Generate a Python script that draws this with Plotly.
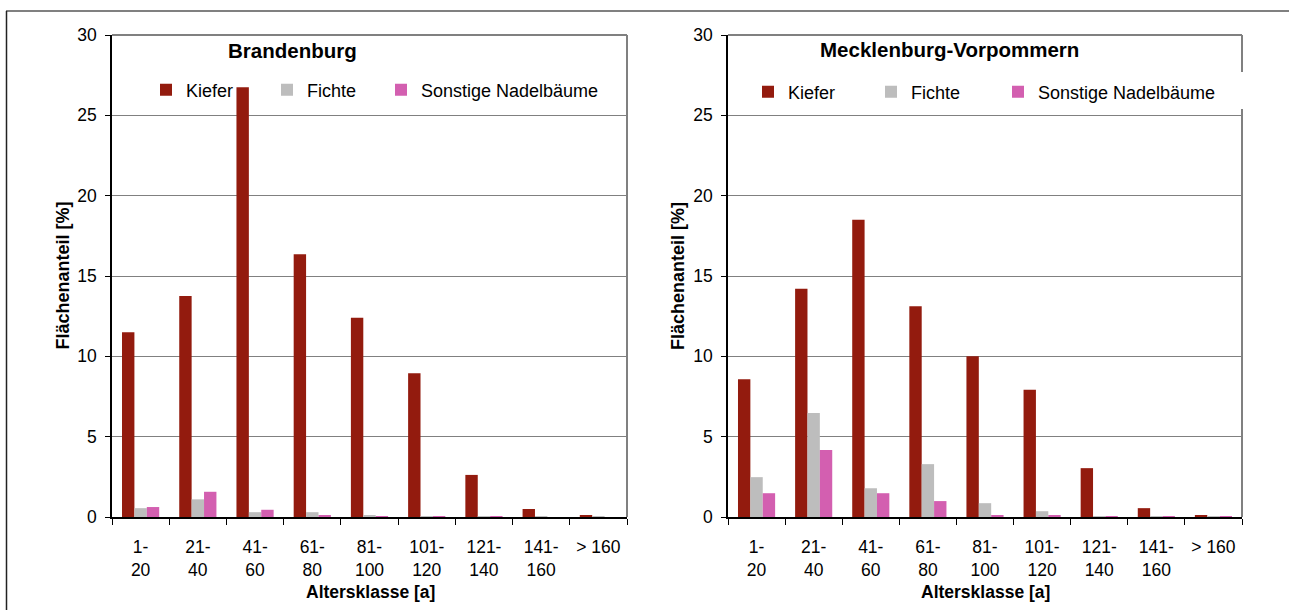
import plotly.graph_objects as go

# Altersklassen und Flächenanteile [%] nach Baumart
categories = ["1-<br>20", "21-<br>40", "41-<br>60", "61-<br>80", "81-<br>100",
              "101-<br>120", "121-<br>140", "141-<br>160", "> 160"]

bb_kiefer = [11.5, 13.75, 26.75, 16.35, 12.4, 8.95, 2.62, 0.5, 0.07]
bb_fichte = [0.55, 1.1, 0.3, 0.3, 0.1, 0.03, 0.01, 0.01, 0.01]
bb_sonstige = [0.62, 1.57, 0.45, 0.11, 0.05, 0.01, 0.01, 0.0, 0.0]

mv_kiefer = [8.57, 14.2, 18.5, 13.12, 10.0, 7.92, 3.04, 0.55, 0.11]
mv_fichte = [2.48, 6.48, 1.79, 3.29, 0.86, 0.36, 0.04, 0.03, 0.03]
mv_sonstige = [1.48, 4.17, 1.48, 0.99, 0.11, 0.11, 0.02, 0.01, 0.01]

series_names = ["Kiefer", "Fichte", "Sonstige Nadelbäume"]
colors = ["#931B0E", "#BDBDBD", "#D35FB0"]

W, H = 1289, 610
FONT = "Liberation Sans, Arial, sans-serif"


def px(x):
    return x / W


def py(y):
    return (H - y) / H


fig = go.Figure()

# jede Legendenzeile bekommt eine eigene Legende, damit die Abstände frei wählbar sind
panels = [
    ("x", "y", ["legend", "legend2", "legend3"], [bb_kiefer, bb_fichte, bb_sonstige]),
    ("x2", "y2", ["legend4", "legend5", "legend6"], [mv_kiefer, mv_fichte, mv_sonstige]),
]
for xa, ya, legends, values in panels:
    for name, col, vals, lg in zip(series_names, colors, values, legends):
        fig.add_trace(go.Bar(
            x=categories, y=vals, name=name, marker_color=col,
            marker_line_width=0, xaxis=xa, yaxis=ya, legend=lg,
        ))

plot_top, plot_bottom = 35, 517
y_dom = [py(plot_bottom), py(plot_top)]
left_x = (112, 627)
right_x = (728, 1242)

xaxis_style = dict(
    type="category", range=[-0.5, 8.5], showline=True, linecolor="black",
    linewidth=1.5, ticks="outside", tickson="boundaries", ticklen=6,
    tickcolor="black", tickwidth=1, showgrid=False, ticklabelstandoff=13,
    automargin=False,
    tickfont=dict(family=FONT, size=17.5, color="black"), fixedrange=True,
)
yaxis_style = dict(
    range=[0, 30], dtick=5, showline=True, linecolor="black", linewidth=1.5,
    ticks="outside", ticklen=5, tickcolor="black", tickwidth=1,
    showgrid=True, gridcolor="#808080", gridwidth=1.3, zeroline=False,
    ticklabelstandoff=5, automargin=False,
    tickfont=dict(family=FONT, size=17.5, color="black"), fixedrange=True,
)

legend_style = dict(
    orientation="h", yanchor="middle", xanchor="left",
    bgcolor="rgba(0,0,0,0)", font=dict(family=FONT, size=18, color="black"),
    itemwidth=30, itemclick=False, itemdoubleclick=False,
)
legend_pos = {
    "legend": (146, 90), "legend2": (267, 90), "legend3": (381, 90),
    "legend4": (748, 92), "legend5": (871, 92), "legend6": (998, 92),
}
legend_layout = {k: dict(x=px(x), y=py(y), **legend_style) for k, (x, y) in legend_pos.items()}

fig.update_layout(
    width=W, height=H, autosize=False,
    margin=dict(l=0, r=0, t=0, b=0, pad=0, autoexpand=False),
    paper_bgcolor="white", plot_bgcolor="white",
    barmode="group", bargap=0.35, bargroupgap=0,
    showlegend=True,
    xaxis=dict(domain=[px(left_x[0]), px(left_x[1])], anchor="y", **xaxis_style),
    yaxis=dict(domain=y_dom, anchor="x", **yaxis_style),
    xaxis2=dict(domain=[px(right_x[0]), px(right_x[1])], anchor="y2", **xaxis_style),
    yaxis2=dict(domain=y_dom, anchor="x2", **yaxis_style),
    **legend_layout,
)

# Rahmen der Diagrammflächen (oben und rechts grau)
gray = dict(color="#808080", width=2)
for x0, x1 in (left_x, right_x):
    fig.add_shape(type="line", xref="paper", yref="paper",
                  x0=px(x0), x1=px(x1), y0=py(plot_top), y1=py(plot_top), line=gray)
fig.add_shape(type="line", xref="paper", yref="paper",
              x0=px(left_x[1]), x1=px(left_x[1]), y0=py(plot_bottom), y1=py(plot_top), line=gray)
# rechter Rand rechts: von der Legende unterbrochen
fig.add_shape(type="line", xref="paper", yref="paper",
              x0=px(right_x[1]), x1=px(right_x[1]), y0=py(plot_bottom), y1=py(109), line=gray)
fig.add_shape(type="line", xref="paper", yref="paper",
              x0=px(right_x[1]), x1=px(right_x[1]), y0=py(72), y1=py(plot_top), line=gray)

# äußerer Rahmen
fig.add_shape(type="line", xref="paper", yref="paper",
              x0=px(6), x1=1, y0=py(11), y1=py(11), line=dict(color="#808080", width=2))
fig.add_shape(type="line", xref="paper", yref="paper",
              x0=px(6.5), x1=px(6.5), y0=py(11), y1=0, line=dict(color="#222222", width=1.5))

# Titel und Achsenbeschriftungen
texts = [
    ("<b>Brandenburg</b>", 292, 51, 20.5, 0),
    ("<b>Mecklenburg-Vorpommern</b>", 949, 49, 20.5, 0),
    ("<b>Altersklasse [a]</b>", 370, 592, 17.5, 0),
    ("<b>Altersklasse [a]</b>", 985, 592, 17.5, 0),
    ("<b>Flächenanteil [%]</b>", 62.5, 276, 18, -90),
    ("<b>Flächenanteil [%]</b>", 678, 276, 18, -90),
]
for txt, x, y, size, ang in texts:
    fig.add_annotation(text=txt, xref="paper", yref="paper", x=px(x), y=py(y),
                       xanchor="center", yanchor="middle", showarrow=False,
                       textangle=ang, font=dict(family=FONT, size=size, color="black"))

fig.write_html("out.html")
